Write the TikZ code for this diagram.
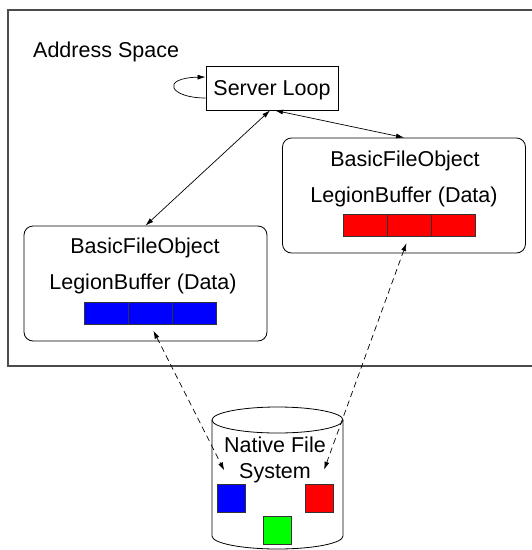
\documentclass[tikz,border=0pt]{standalone}
\usepackage{fontspec}
\setmainfont{Liberation Sans}
\usetikzlibrary{positioning}
\usetikzlibrary{arrows.meta}
\tikzset{
	objbox/.style={draw, line width=0.8pt, rounded corners=9pt, minimum width=243pt, minimum height=115pt},
	cell/.style={draw=black!80, minimum width=44pt, minimum height=22pt, inner sep=0pt, outer sep=0pt},
	square/.style={draw=black!80, minimum size=28pt, inner sep=0pt},
	txt/.style={font=\fontsize{21.5}{26}\selectfont, inner sep=0pt, anchor=base},
	link/.style={line width=0.7pt, {Latex[length=8pt,width=5pt]}-{Latex[length=8pt,width=5pt]}},
	dlink/.style={link, dash pattern=on 6pt off 4pt}
}

\begin{document}
\begin{tikzpicture}[x=1pt, y=-1pt]
  \useasboundingbox (0,0) rectangle (532,550);

  % address space frame
  \draw[black!70, line width=1.2pt] (532,10) -- (8,10) -- (8,366) -- (532,366);
  \node[txt, anchor=base west] (addr) at (33,57) {Address Space};

  \node[draw, line width=0.8pt, minimum width=132pt, minimum height=44pt, text height=14.5pt, text depth=0pt,
    font=\fontsize{21.5}{26}\selectfont, inner sep=0pt] (srv) at (272,88) {Server Loop};

  % left object
  \node[objbox] (lbox) at (145.5,283.5) {};
  \node[txt] (lname) at (145,253) {BasicFileObject};
  \node[txt] (lbuf) at (143,289) {LegionBuffer (Data)};
  \node[cell, fill=blue] (lbar2) at (150,313) {};
  \node[cell, fill=blue, left=0pt of lbar2] (lbar1) {};
  \node[cell, fill=blue, right=0pt of lbar2] (lbar3) {};

  % right object
  \node[objbox] (rbox) at (404,195.5) {};
  \node[txt] (rname) at (405,166) {BasicFileObject};
  \node[txt] (rbuf) at (404,202) {LegionBuffer (Data)};
  \node[cell, fill=red] (rbar2) at (409,225) {};
  \node[cell, fill=red, left=0pt of rbar2] (rbar1) {};
  \node[cell, fill=red, right=0pt of rbar2] (rbar3) {};

  % native file system
  \draw[line width=0.8pt] (277.5,420) ellipse [x radius=65.5, y radius=13];
  \draw[line width=0.8pt] (212,420) -- (212,536) arc[start angle=180, end angle=0, x radius=65.5, y radius=13] -- (343,420);
  \node[txt, align=center] (fsname) at (275,478) {Native File\\System};
  \node[square, fill=blue] (bsq) at (231,498) {};
  \node[square, fill=red] (rsq) at (319,498) {};
  \node[square, fill=green] (gsq) at (277.5,530) {};

  \draw[-{Latex[length=8pt,width=5pt]}, line width=0.7pt] ([yshift=-10pt]srv.west)
    .. controls +(-36,0) and +(-46,1) .. ([yshift=11pt]srv.west);
  \draw[link] ([xshift=-2pt]srv.south) -- (lbox.north);
  \draw[link] ([xshift=3pt]srv.south) -- (rbox.north);
  \draw[dlink, shorten <=7.5pt, shorten >=15pt] (lbar2.south) -- (bsq.north);
  \draw[dlink, shorten <=7.5pt, shorten >=15pt] (rbar2.south) -- (rsq.north);

\end{tikzpicture}
\end{document}
